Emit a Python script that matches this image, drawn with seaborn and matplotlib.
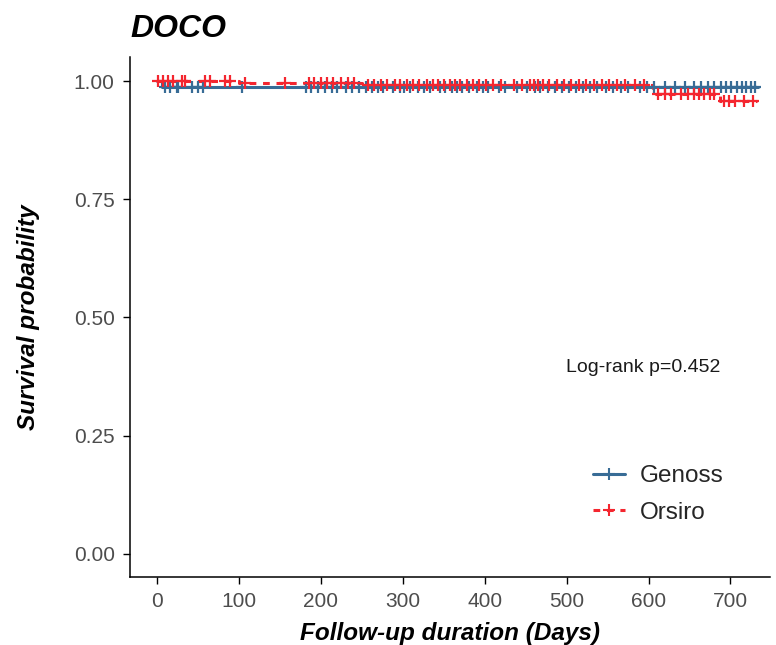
"""
Kaplan-Meier plot for DOCO (Genoss vs Orsiro)
"""

import numpy as np
import pandas as pd
import seaborn as sns
import matplotlib.pyplot as plt
from matplotlib.lines import Line2D

# step curves (time of drop, survival after drop)
genoss_times = [0, 6, 733]
genoss_surv = [1.0, 0.988, 0.988]
orsiro_times = [0, 100, 250, 605, 687, 732]
orsiro_surv = [1.0, 0.996, 0.991, 0.972, 0.958, 0.958]

# censoring times (days)
genoss_cens = [10, 16, 24, 26, 43, 50, 56, 104, 182, 188, 196, 205, 213, 220, 231, 238,
               247, 255, 262, 270, 276, 288, 296, 301, 309, 318, 326, 333, 345, 352, 360,
               366, 372, 381, 390, 398, 404, 417, 425, 440, 452, 461, 468, 477, 486, 494,
               503, 511, 520, 529, 537, 548, 556, 566, 575, 589, 598, 607, 620, 632, 645,
               655, 664, 672, 680, 688, 694, 701, 708, 714, 719, 725, 730]
orsiro_cens = [1, 7, 13, 20, 30, 34, 58, 65, 83, 89, 107, 156, 185, 192, 200, 208, 215,
               224, 233, 241, 258, 265, 273, 281, 290, 297, 305, 312, 320, 329, 337, 343,
               350, 358, 364, 370, 378, 386, 393, 401, 410, 420, 436, 446, 455, 460, 465,
               471, 479, 488, 497, 505, 515, 524, 533, 543, 552, 561, 571, 583, 594, 612,
               620, 628, 640, 648, 655, 661, 668, 675, 680, 692, 698, 705, 716, 727]

groups = ['Genoss', 'Orsiro']
colors = {'Genoss': '#386C96', 'Orsiro': '#F4262F'}
pval_text = 'Log-rank p=0.452'


def surv_at(times, surv, t):
    idx = np.searchsorted(times, t, side='right') - 1
    return np.asarray(surv)[idx]


curve_df = pd.concat([
    pd.DataFrame({'time': genoss_times, 'surv': genoss_surv, 'group': 'Genoss'}),
    pd.DataFrame({'time': orsiro_times, 'surv': orsiro_surv, 'group': 'Orsiro'}),
])
cens_df = pd.concat([
    pd.DataFrame({'time': genoss_cens, 'surv': surv_at(genoss_times, genoss_surv, genoss_cens),
                  'group': 'Genoss'}),
    pd.DataFrame({'time': orsiro_cens, 'surv': surv_at(orsiro_times, orsiro_surv, orsiro_cens),
                  'group': 'Orsiro'}),
])

sns.set_style('ticks')
plt.rcParams['font.family'] = ['Liberation Sans', 'DejaVu Sans']

fig = plt.figure(figsize=(7.76, 6.45), dpi=100)
ax = fig.add_axes([0.1675, 0.1054, 0.8245, 0.8062])

# draw each curve, dashed for Orsiro
sns.lineplot(data=curve_df[curve_df.group == 'Genoss'], x='time', y='surv', ax=ax,
             color=colors['Genoss'], drawstyle='steps-post', estimator=None, lw=2.2,
             legend=False)
sns.lineplot(data=curve_df[curve_df.group == 'Orsiro'], x='time', y='surv', ax=ax,
             color=colors['Orsiro'], drawstyle='steps-post', estimator=None, lw=2.2,
             legend=False, dashes=False, linestyle=(0, (2.2, 2.2)))

# censor marks
for g in groups:
    sub = cens_df[cens_df.group == g]
    sns.scatterplot(data=sub, x='time', y='surv', ax=ax, marker='+', color=colors[g],
                    s=70, linewidth=1.6, legend=False, zorder=3)

ax.set_xlim(-33, 748)
ax.set_ylim(-0.049, 1.051)
ax.set_xticks([0, 100, 200, 300, 400, 500, 600, 700])
ax.set_yticks([0, 0.25, 0.5, 0.75, 1.0])
ax.set_yticklabels(['0.00', '0.25', '0.50', '0.75', '1.00'])
ax.tick_params(axis='both', labelsize=15, labelcolor='#4D4D4D', length=5, width=1,
               color='black', pad=6)
for side in ['left', 'bottom']:
    ax.spines[side].set_color('black')
    ax.spines[side].set_linewidth(1.1)
sns.despine(ax=ax)

ax.set_xlabel('Follow-up duration (Days)', fontsize=17.5, fontweight='bold',
              fontstyle='italic', labelpad=8, color='black')
ax.set_ylabel('Survival probability', fontsize=17.5, fontweight='bold',
              fontstyle='italic', labelpad=24, color='black')
fig.text(0.1675, 0.955, 'DOCO', fontsize=23, fontweight='bold', fontstyle='italic',
         ha='left', va='center', color='black')

ax.text(593, 0.395, pval_text, fontsize=14, ha='center', va='center', color='#1a1a1a')

handles = [
    Line2D([0], [0], color=colors['Genoss'], lw=2.2, marker='+', markersize=8,
           markeredgewidth=1.5),
    Line2D([0], [0], color=colors['Orsiro'], lw=2.2, linestyle=(0, (2.2, 2.2)), marker='+',
           markersize=8, markeredgewidth=1.5),
]
ax.legend(handles, groups, loc='center left', bbox_to_anchor=(0.69, 0.159), frameon=False,
          fontsize=17.5, handlelength=1.3, handletextpad=0.6, labelspacing=0.6)

fig.savefig('out.png', dpi=100)
